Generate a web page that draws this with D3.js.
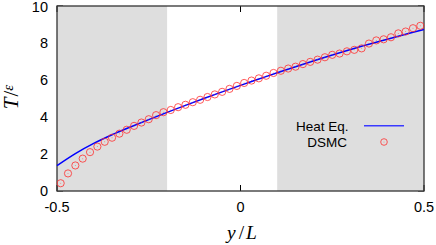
<!DOCTYPE html>
<html><head><meta charset="utf-8">
<script src="https://cdn.jsdelivr.net/npm/d3@7/dist/d3.min.js"></script>
<style>body{margin:0;background:#fff}svg{display:block}</style>
</head><body>
<script>
// Data
const dsmcY = d3.range(50).map(i => -0.49 + 0.02 * i);
const dsmcT = [0.42,0.95,1.38,1.75,2.10,2.40,2.66,2.88,3.10,3.31,
               3.52,3.70,3.88,4.10,4.26,4.38,4.53,4.66,4.80,4.93,
               5.08,5.22,5.36,5.52,5.68,5.84,5.97,6.09,6.23,6.38,
               6.50,6.62,6.72,6.86,6.98,7.10,7.23,7.36,7.43,7.55,
               7.63,7.71,7.97,8.14,8.20,8.31,8.52,8.62,8.80,8.93];
const heatY = [-0.5,-0.45,-0.4,-0.35,-0.3,-0.25,-0.2,-0.15,-0.1,-0.05,0,0.05,0.1,0.15,0.2,0.25,0.3,0.35,0.4,0.45,0.5];
const heatT = [1.37,2.02,2.57,3.04,3.46,3.86,4.25,4.63,5.00,5.36,5.71,6.05,6.39,6.72,7.04,7.35,7.65,7.93,8.20,8.47,8.73];
const shadeRanges = [[-0.5,-0.2],[0.1,0.5]];
const xTicks = [-0.5, 0, 0.5];
const xTickLabels = ["-0.5", "0", "0.5"];
const yTicks = [0, 2, 4, 6, 8, 10];
const legendLabels = ["Heat Eq.", "DSMC"];

const W = 436, H = 245;
const svg = d3.select("body").append("svg").attr("width", W).attr("height", H);
const x = d3.scaleLinear().domain([-0.5, 0.5]).range([57, 424]);
const y = d3.scaleLinear().domain([0, 10]).range([191, 6]);

// inner ticks (drawn under shading)
svg.append("g").selectAll("line.yt").data(yTicks).join("line")
  .attr("x1", x(-0.5)).attr("x2", x(-0.5) + 6).attr("y1", d => y(d)).attr("y2", d => y(d))
  .attr("stroke", "#000");
svg.append("g").selectAll("line.yt2").data(yTicks).join("line")
  .attr("x1", x(0.5)).attr("x2", x(0.5) - 6).attr("y1", d => y(d)).attr("y2", d => y(d))
  .attr("stroke", "#000");

// shading
svg.append("g").selectAll("rect").data(shadeRanges).join("rect")
  .attr("x", d => x(d[0])).attr("width", d => x(d[1]) - x(d[0]))
  .attr("y", y(10)).attr("height", y(0) - y(10))
  .attr("fill", "#dedede");

// x ticks top and bottom
const xt = svg.append("g");
xt.selectAll("line.b").data(xTicks).join("line")
  .attr("x1", d => x(d)).attr("x2", d => x(d)).attr("y1", y(0)).attr("y2", y(0) - 6)
  .attr("stroke", "#000");
xt.selectAll("line.t").data(xTicks).join("line")
  .attr("x1", d => x(d)).attr("x2", d => x(d)).attr("y1", y(10)).attr("y2", y(10) + 6)
  .attr("stroke", "#000");

// frame
svg.append("rect").attr("x", x(-0.5)).attr("y", y(10))
  .attr("width", x(0.5) - x(-0.5)).attr("height", y(0) - y(10))
  .attr("fill", "none").attr("stroke", "#333").attr("stroke-width", 1.3);

// tick labels
const font = "'Liberation Sans', Arial, Helvetica, sans-serif";
svg.append("g").selectAll("text").data(yTicks).join("text")
  .attr("x", 48).attr("y", d => y(d) + (d === 10 ? 1 : 0)).attr("dy", "0.36em")
  .attr("text-anchor", "end").attr("font-family", font).attr("font-size", 14.5)
  .text(d => d);
svg.append("g").selectAll("text").data(xTicks).join("text")
  .attr("x", d => x(d)).attr("y", 212)
  .attr("text-anchor", "middle").attr("font-family", font).attr("font-size", 14.5)
  .text((d, i) => xTickLabels[i]);

// heat eq line
const line = d3.line().x((d, i) => x(heatY[i])).y(d => y(d)).curve(d3.curveCatmullRom);
svg.append("path").datum(heatT).attr("d", line)
  .attr("fill", "none").attr("stroke", "#0000ff").attr("stroke-width", 1.5);

// dsmc points
const pts = svg.append("g");
pts.selectAll("circle.o").data(dsmcT).join("circle")
  .attr("cx", (d, i) => x(dsmcY[i])).attr("cy", d => y(d)).attr("r", 3.6)
  .attr("fill", "none").attr("stroke", "#ff3030").attr("stroke-opacity", 0.8).attr("stroke-width", 1);
pts.selectAll("circle.c").data(dsmcT).join("circle")
  .attr("cx", (d, i) => x(dsmcY[i])).attr("cy", d => y(d)).attr("r", 0.5)
  .attr("fill", "#ff3030").attr("fill-opacity", 0.6);

// legend
const lg = svg.append("g");
lg.append("text").attr("x", 348.5).attr("y", 130.5).attr("text-anchor", "end")
  .attr("font-family", font).attr("font-size", 13.5).text(legendLabels[0]);
lg.append("text").attr("x", 347).attr("y", 147).attr("text-anchor", "end")
  .attr("font-family", font).attr("font-size", 13.5).text(legendLabels[1]);
lg.append("line").attr("x1", 364).attr("x2", 404).attr("y1", 125.7).attr("y2", 125.7)
  .attr("stroke", "#3a3aff").attr("stroke-width", 1.6);
lg.append("circle").attr("cx", 384).attr("cy", 142).attr("r", 3.3)
  .attr("fill", "none").attr("stroke", "#ff3030").attr("stroke-opacity", 0.8);
lg.append("circle").attr("cx", 384).attr("cy", 142).attr("r", 0.5)
  .attr("fill", "#ff3030").attr("fill-opacity", 0.6);

// axis titles
const serif = "'Liberation Serif', 'DejaVu Serif', serif";
const xl = svg.append("text").attr("x", 242).attr("y", 239).attr("text-anchor", "middle")
  .attr("font-family", serif).attr("font-size", 19.5).attr("font-style", "italic");
xl.append("tspan").text("y");
xl.append("tspan").attr("dx", 3).attr("font-style", "normal").text("/");
xl.append("tspan").attr("dx", 2).text("L");

const yl = svg.append("text").attr("transform", "translate(18,97) rotate(-90)")
  .attr("text-anchor", "middle").attr("font-family", serif).attr("font-size", 21).attr("font-style", "italic");
yl.append("tspan").text("T");
yl.append("tspan").attr("dx", 1).attr("font-style", "normal").text("/");
yl.append("tspan").attr("dx", 0).attr("font-size", 15).attr("dy", -5).text("ε");
</script>
</body></html>
